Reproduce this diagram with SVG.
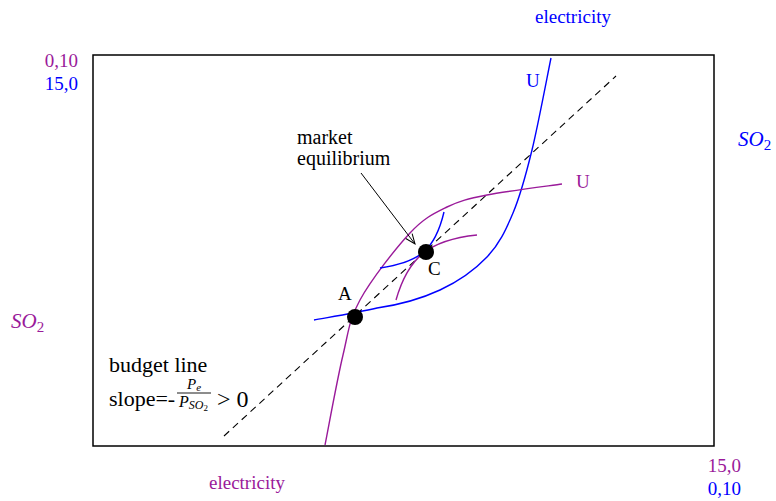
<svg xmlns="http://www.w3.org/2000/svg" width="776" height="501" viewBox="0 0 776 501">
<style>
text{font-family:"Liberation Serif","Times New Roman",serif}
.s19{font-size:19px}
.s20{font-size:20px}
.s22{font-size:22px}
.s24{font-size:24px}
.b{fill:#0000ff}
.p{fill:#9a1a9a}
.k{fill:#000}
.cb{fill:none;stroke:#0000ff;stroke-width:1.4}
.cp{fill:none;stroke:#9a1a9a;stroke-width:1.4}
.it{font-style:italic}
</style>
<defs>
<marker id="arr" markerWidth="12" markerHeight="12" refX="11" refY="6" orient="auto" markerUnits="userSpaceOnUse">
<path d="M1,2 L11,6 L1,10" fill="none" stroke="#000" stroke-width="1"/>
</marker>
</defs>
<g id="frame">
<rect x="93" y="55" width="621" height="391" fill="none" stroke="#000" stroke-width="1.5"/>
</g>
<g id="connectors">
<line id="budget-line" x1="224" y1="436" x2="616" y2="76" stroke="#000" stroke-width="1.1" stroke-dasharray="7,5"/>
<path id="U-blue-big" class="cb" d="M314,320 C324.5,318 356,313 377,308 C398,305 421.7,298.5 440,290 C458.3,281.5 474.8,269.8 487,257 C499.2,244.2 505.5,230.8 513,213 C520.5,195.2 525.7,175.8 532,150 C538.3,124.2 547.8,73.3 551,58"/>
<path id="U-purple-big" class="cp" d="M325,445 C328,430 337.2,379.2 343,355 C348.8,330.8 348.8,320.3 360,300 C371.2,279.7 395.5,248.5 410,233 C424.5,217.5 434.2,213.3 447,207 C459.8,200.7 467.8,198.8 487,195 C506.2,191.2 549.5,185.8 562,184"/>
<path id="U-blue-small" class="cb" d="M380,268 C420,262 435,250 444,212"/>
<path id="U-purple-small" class="cp" d="M396,300 C408,258 428,240 477,235"/>
<line id="arrow" x1="361" y1="173" x2="415" y2="244" stroke="#000" stroke-width="1" marker-end="url(#arr)"/>
</g>
<g id="point-A">
<circle cx="355" cy="317" r="8" fill="#000"/>
<text x="338" y="300" class="k s19">A</text>
</g>
<g id="point-C">
<circle cx="426" cy="252" r="8" fill="#000"/>
<text x="428" y="275" class="k s19">C</text>
</g>
<g id="label-market">
<text x="297" y="144" class="k s20">market</text>
<text x="297" y="165" class="k s20">equilibrium</text>
</g>
<g id="labels-U">
<text x="526" y="87" class="b s19">U</text>
<text x="576" y="188" class="p s19">U</text>
</g>
<g id="axes-labels">
<text x="573" y="23" class="b s19" text-anchor="middle">electricity</text>
<text x="78" y="67" class="p s19" text-anchor="end">0,10</text>
<text x="78" y="90" class="b s19" text-anchor="end">15,0</text>
<text x="738" y="146" class="b"><tspan class="it" font-size="21">SO</tspan><tspan font-size="15" dy="4">2</tspan></text>
<text x="11" y="328" class="p"><tspan class="it" font-size="21">SO</tspan><tspan font-size="15" dy="4">2</tspan></text>
<text x="247" y="489" class="p s19" text-anchor="middle">electricity</text>
<text x="741" y="472" class="p s19" text-anchor="end">15,0</text>
<text x="741" y="495" class="b s19" text-anchor="end">0,10</text>
</g>
<g id="budget-label">
<text x="109" y="372" class="k s22">budget line</text>
<text x="109" y="406" class="k s22">slope=-</text>
<text x="194" y="389" class="k" text-anchor="middle"><tspan class="it" font-size="15">P</tspan><tspan class="it" font-size="11" dy="2">e</tspan></text>
<line x1="177" y1="393" x2="211" y2="393" stroke="#000" stroke-width="0.9"/>
<text x="179" y="407" class="k"><tspan class="it" font-size="16">P</tspan><tspan class="it" font-size="12" dy="2">SO</tspan><tspan font-size="9" dy="2">2</tspan></text>
<text x="217" y="407" class="k s24">&gt; 0</text>
</g>
</svg>
